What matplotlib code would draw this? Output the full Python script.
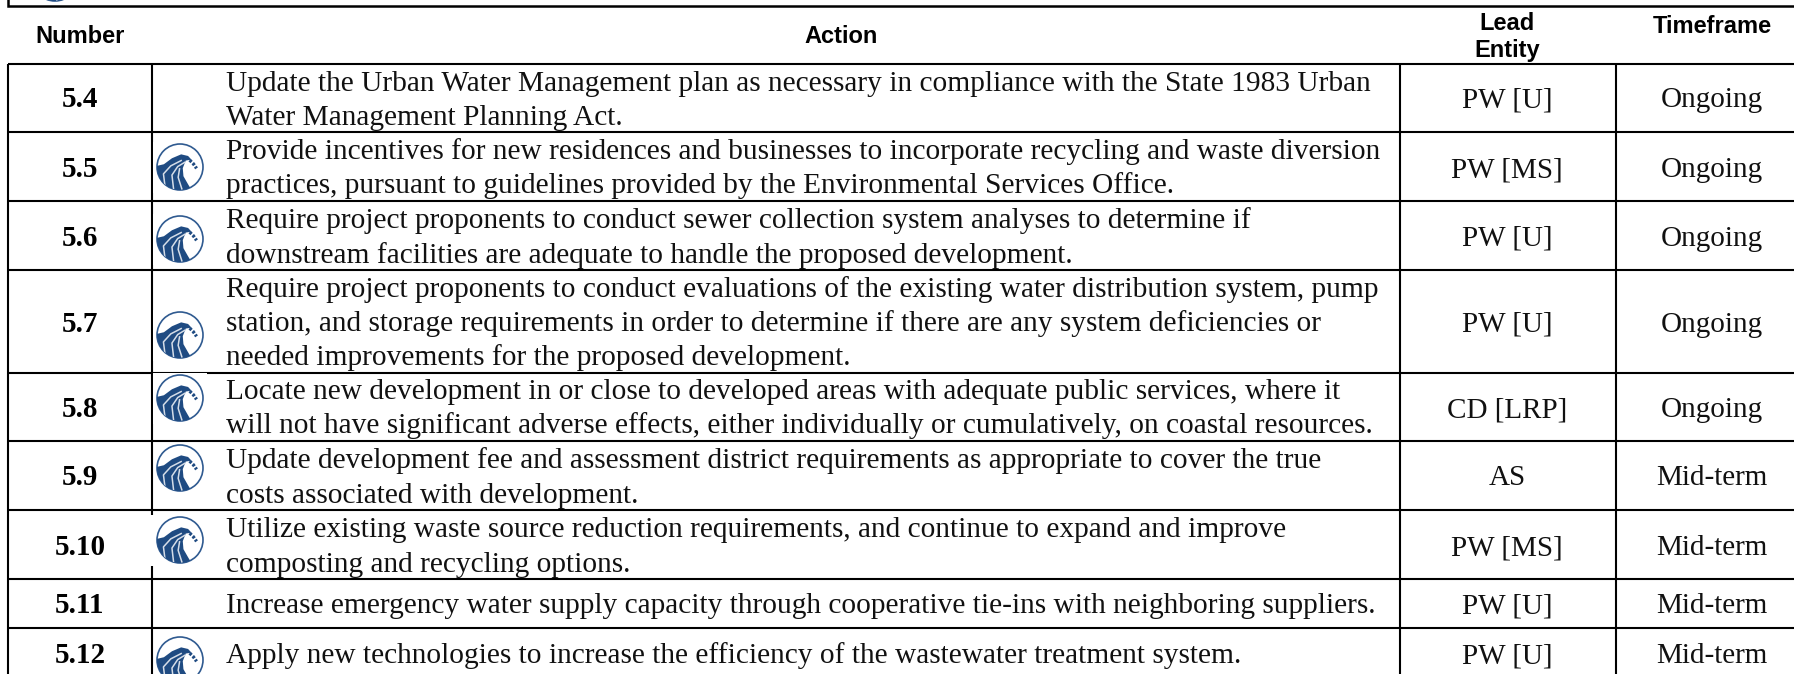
import matplotlib
matplotlib.use('Agg')
import matplotlib.pyplot as plt
from matplotlib.patches import Circle, Polygon, Rectangle

numbers = ['5.4', '5.5', '5.6', '5.7', '5.8', '5.9', '5.10', '5.11', '5.12']
actions = [
    ['Update the Urban Water Management plan as necessary in compliance with the State 1983 Urban',
     'Water Management Planning Act.'],
    ['Provide incentives for new residences and businesses to incorporate recycling and waste diversion',
     'practices, pursuant to guidelines provided by the Environmental Services Office.'],
    ['Require project proponents to conduct sewer collection system analyses to determine if',
     'downstream facilities are adequate to handle the proposed development.'],
    ['Require project proponents to conduct evaluations of the existing water distribution system, pump',
     'station, and storage requirements in order to determine if there are any system deficiencies or',
     'needed improvements for the proposed development.'],
    ['Locate new development in or close to developed areas with adequate public services, where it',
     'will not have significant adverse effects, either individually or cumulatively, on coastal resources.'],
    ['Update development fee and assessment district requirements as appropriate to cover the true',
     'costs associated with development.'],
    ['Utilize existing waste source reduction requirements, and continue to expand and improve',
     'composting and recycling options.'],
    ['Increase emergency water supply capacity through cooperative tie-ins with neighboring suppliers.'],
    ['Apply new technologies to increase the efficiency of the wastewater treatment system.'],
]
leads = ['PW [U]', 'PW [MS]', 'PW [U]', 'PW [U]', 'CD [LRP]', 'AS', 'PW [MS]', 'PW [U]', 'PW [U]']
timeframes = ['Ongoing', 'Ongoing', 'Ongoing', 'Ongoing', 'Ongoing', 'Mid-term', 'Mid-term', 'Mid-term', 'Mid-term']

# pixel layout of the page
row_lines = [64, 132, 200.5, 270, 372.5, 440.5, 510, 579, 627.5]
col_lines = [8, 152, 1400, 1615.5]
row_base = [107, 177, 246, 332, 417, 485, 555, 613, 663]
action_base = [[91, 125], [159, 193], [228, 263], [297, 331, 365], [399, 433], [468, 503], [537, 572], [613], [663]]
icon_y = [None, 167, 239, 335, 398, 468, 540, None, 660]
# left edge of the white box round each icon (it eats into the column line)
patch_x = [None, 153, 153, 153, 153, 154, 150, None, 154]

SERIF = 'Liberation Serif'
SANS = 'Liberation Sans'
BLUE = '#1f4b82'

fig = plt.figure(figsize=(17.94, 6.74), dpi=100)
ax = fig.add_axes([0, 0, 1, 1])
ax.set_xlim(0, 1794)
ax.set_ylim(674, 0)
ax.axis('off')


def draw_icon(cx, cy, left=None, r=23):
    if left is not None:
        ax.add_patch(Rectangle((left, cy - 25), 207 - left, 51, fc='white', ec='none', zorder=2))
    ring = Circle((cx, cy), r, fc='white', ec='#2f5a90', lw=1.2, zorder=3)
    ax.add_patch(ring)
    clip = Circle((cx, cy), r, transform=ax.transData)
    body = [(-1.0, -0.05), (-0.7, -0.12), (-0.35, -0.38), (0.05, -0.55), (0.35, -0.48), (0.5, -0.32), (0.25, -0.28),
            (0.12, 0.05), (0.15, 0.4), (0.35, 0.75), (0.5, 1.0), (-1.0, 1.0)]
    wave = Polygon([(cx + r * a, cy + r * b) for a, b in body], fc=BLUE, ec='none', zorder=4)
    ax.add_patch(wave)
    wave.set_clip_path(clip)
    # white streaks in the wave
    for pts in ([(-0.65, 0.85), (-0.72, 0.3), (-0.4, -0.05), (0.05, -0.28)],
                [(-0.28, 0.95), (-0.35, 0.35), (-0.1, -0.02), (0.2, -0.2)],
                [(0.08, 0.95), (-0.08, 0.45), (-0.02, 0.08)]):
        line, = ax.plot([cx + r * a for a, b in pts], [cy + r * b for a, b in pts],
                        color='#d5dde8', lw=1.1, zorder=5)
        line.set_clip_path(clip)
    # curl of the crest
    ax.plot([cx + r * a for a in (0.42, 0.58, 0.72)], [cy + r * b for b in (-0.3, -0.14, 0.06)],
            color=BLUE, lw=2.4, ls=(0, (0.8, 0.5)), zorder=4)


# frame of the banner on top
ax.add_patch(Rectangle((8, -10), 1800, 16, fc='none', ec='black', lw=1.8, zorder=1))
draw_icon(55, -22)

# table lines
ax.hlines(row_lines, 8, 1794, color='black', lw=1.5, zorder=1)
ax.vlines(col_lines, 64, 674, color='black', lw=1.5, zorder=1)

# headers
ax.text(80, 43, 'Number', family=SANS, weight='bold', fontsize=17, ha='center', va='baseline')
ax.text(841, 43, 'Action', family=SANS, weight='bold', fontsize=17, ha='center', va='baseline')
ax.text(1507, 30, 'Lead', family=SANS, weight='bold', fontsize=17, ha='center', va='baseline')
ax.text(1507, 57, 'Entity', family=SANS, weight='bold', fontsize=17, ha='center', va='baseline')
ax.text(1712, 33, 'Timeframe', family=SANS, weight='bold', fontsize=17, ha='center', va='baseline')

# rows
for i in range(len(numbers)):
    ax.text(80, row_base[i], numbers[i], family=SERIF, weight='bold', fontsize=21, ha='center', va='baseline')
    for line, y in zip(actions[i], action_base[i]):
        ax.text(226, y, line, family=SERIF, fontsize=21.15, ha='left', va='baseline', color='#111111')
    ax.text(1507, row_base[i], leads[i], family=SERIF, fontsize=21, ha='center', va='baseline', color='#111111')
    ax.text(1712, row_base[i], timeframes[i], family=SERIF, fontsize=21, ha='center', va='baseline', color='#111111')
    if icon_y[i] is not None:
        draw_icon(180, icon_y[i], patch_x[i])

fig.savefig('out.png', dpi=100)
